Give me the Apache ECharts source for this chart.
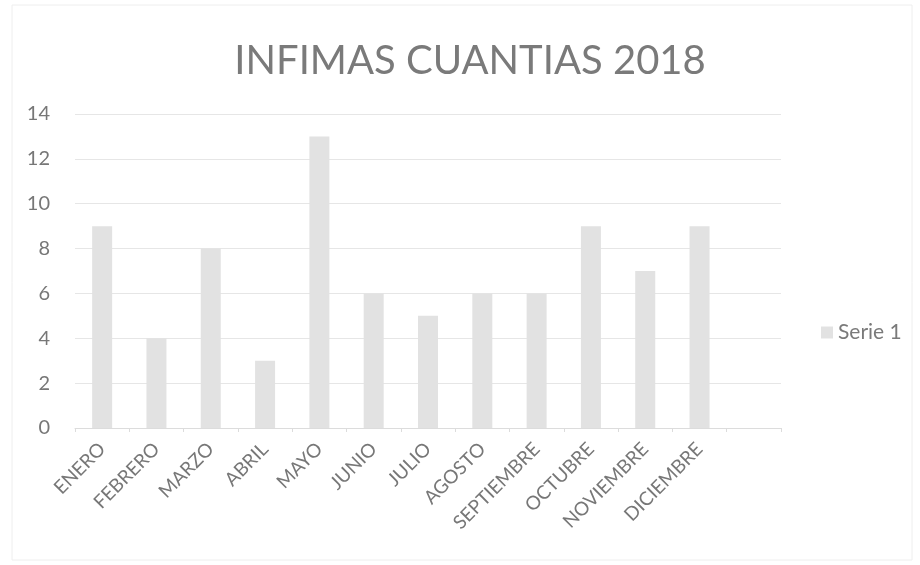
<!DOCTYPE html>
<html>
<head>
<meta charset="utf-8">
<script src="https://cdn.jsdelivr.net/npm/echarts@6/dist/echarts.min.js"></script>
<style>html,body{margin:0;padding:0;background:#fff}#c{width:920px;height:565px}</style>
</head>
<body>
<div id="c"></div>
<script>
const categories = ['ENERO','FEBRERO','MARZO','ABRIL','MAYO','JUNIO','JULIO','AGOSTO','SEPTIEMBRE','OCTUBRE','NOVIEMBRE','DICIEMBRE',''];
const serie1 = [9,4,8,3,13,6,5,6,6,9,7,9,null];
const yTicks = {min:0, max:14, interval:2};

const chart = echarts.init(document.getElementById('c'));
chart.setOption({
  animation:false,
  backgroundColor:'#fff',
  title:{text:'INFIMAS CUANTIAS 2018', left:465, textAlign:'center', top:36,
    textStyle:{fontFamily:'Lato', fontSize:40, fontWeight:'normal', color:'#7a7a7a'}},
  legend:{data:['Serie 1'], orient:'vertical', left:816, top:317, itemWidth:12, itemHeight:12, itemGap:6,
    icon:'rect', textStyle:{fontFamily:'Lato', fontSize:21, color:'#7a7a7a'}},
  grid:{left:75, right:139, top:114, bottom:137},
  xAxis:{type:'category', data:categories, boundaryGap:true,
    axisLine:{lineStyle:{color:'#dcdcdc'}},
    axisTick:{show:true, length:4, lineStyle:{color:'#dcdcdc'}},
    axisLabel:{rotate:45, interval:0, fontFamily:'Lato', fontSize:19, color:'#777', margin:18}},
  yAxis:{type:'value', min:yTicks.min, max:yTicks.max, interval:yTicks.interval,
    axisLine:{show:false}, axisTick:{show:false},
    splitLine:{lineStyle:{color:'#e6e6e6'}},
    axisLabel:{fontFamily:'Lato', fontSize:20, color:'#777', margin:25}},
  series:[{name:'Serie 1', type:'bar', data:serie1, barWidth:20,
    itemStyle:{color:'#e2e2e2'}}],
  graphic:[{type:'rect', shape:{x:12, y:5, width:900, height:555}, style:{fill:'none', stroke:'#eeeeee', lineWidth:1}, silent:true}]
});
</script>
</body>
</html>
